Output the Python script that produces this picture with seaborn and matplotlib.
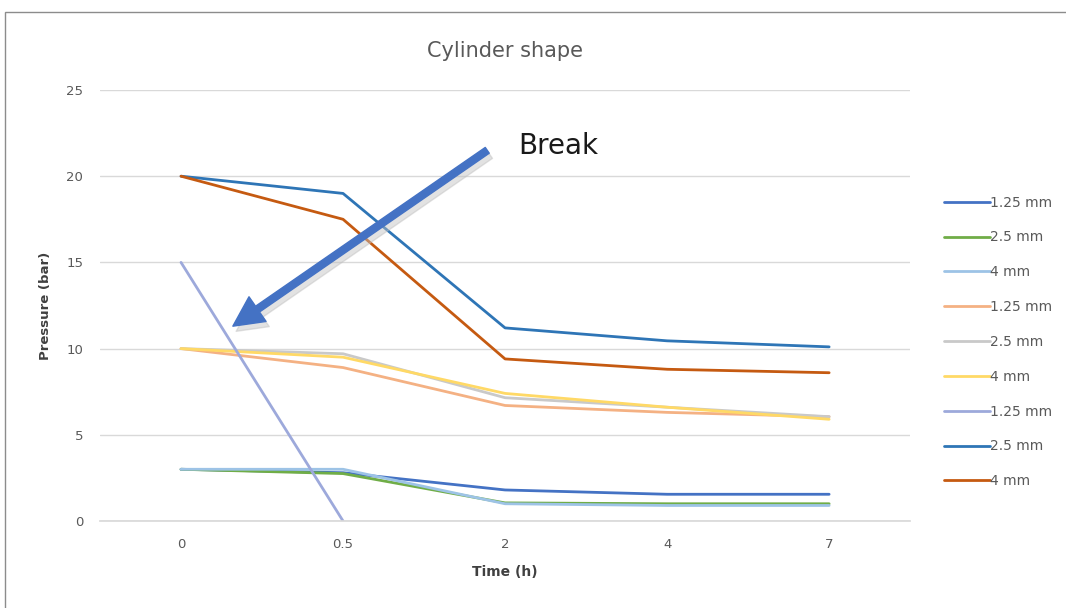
import numpy as np
import pandas as pd
import matplotlib
matplotlib.use("Agg")
import matplotlib.pyplot as plt
import seaborn as sns
from matplotlib.patches import Rectangle

# ---- data ----
time_labels = ["0", "0.5", "2", "4", "7"]
series_names = ["1.25 mm", "2.5 mm", "4 mm",
                "1.25 mm", "2.5 mm", "4 mm",
                "1.25 mm", "2.5 mm", "4 mm"]
s1 = [3.0, 2.8, 1.8, 1.55, 1.55]
s2 = [3.0, 2.75, 1.05, 1.0, 1.0]
s3 = [3.0, 3.0, 1.0, 0.9, 0.9]
s4 = [10.0, 8.9, 6.7, 6.3, 6.05]
s5 = [10.0, 9.7, 7.15, 6.6, 6.05]
s6 = [10.0, 9.5, 7.4, 6.6, 5.9]
s7 = [15.0, 0.0, np.nan, np.nan, np.nan]
s8 = [20.0, 19.0, 11.2, 10.45, 10.1]
s9 = [20.0, 17.5, 9.4, 8.8, 8.6]
all_series = [s1, s2, s3, s4, s5, s6, s7, s8, s9]
colors = ["#4472C4", "#70AD47", "#9DC3E6",
          "#F4B183", "#C9C9C9", "#FFD966",
          "#9DA9DB", "#2E75B6", "#C55A11"]

sns.set_theme(style="white")
plt.rcParams['font.family'] = ['DejaVu Sans']

fig = plt.figure(figsize=(10.66, 6.08), dpi=100)
ax = fig.add_axes([0.0938, 0.1431, 0.76, 0.7089])

pos = np.arange(len(time_labels))
for i, (vals, col) in enumerate(zip(all_series, colors)):
    df = pd.DataFrame({"t": pos, "p": vals}).dropna()
    sns.lineplot(data=df, x="t", y="p", ax=ax, color=col, linewidth=2.0,
                 label=series_names[i], sort=False)

ax.set_xlim(-0.5, len(time_labels) - 0.5)
ax.set_ylim(0, 25)
ax.set_xticks(pos)
ax.set_xticklabels(time_labels)
ax.set_yticks([0, 5, 10, 15, 20, 25])
ax.yaxis.grid(True, color="#D9D9D9", linewidth=1)
ax.xaxis.grid(False)
for s in ["top", "right", "left"]:
    ax.spines[s].set_visible(False)
ax.spines["bottom"].set_color("#D9D9D9")
ax.tick_params(axis="both", colors="#595959", labelsize=9.5, length=0)
ax.tick_params(axis="y", pad=12)
ax.tick_params(axis="x", pad=12)
ax.set_xlabel("Time (h)", fontsize=10, fontweight="bold", color="#404040", labelpad=10)
ax.set_ylabel("Pressure (bar)", fontsize=9.5, fontweight="bold", color="#404040", labelpad=10)
ax.set_title("Cylinder shape", fontsize=15, color="#595959", pad=24)

leg = ax.legend(loc="upper left", bbox_to_anchor=(1.035, 0.768), frameon=False,
                fontsize=10, handlelength=3.3, handletextpad=0.0,
                labelspacing=1.5, borderaxespad=0)
for t in leg.get_texts():
    t.set_color("#595959")

# annotation arrow "Break" with soft shadow
start = (1.89, 21.5)
end = (0.32, 11.3)
style = "simple,head_length=1.8,head_width=1.8,tail_width=0.42"
ax.annotate("", xy=(end[0] + 0.02, end[1] - 0.3), xytext=(start[0] + 0.02, start[1] - 0.3),
            arrowprops=dict(arrowstyle=style, color="#BFBFBF", alpha=0.45,
                            mutation_scale=12, shrinkA=0, shrinkB=0),
            annotation_clip=False)
ax.annotate("", xy=end, xytext=start,
            arrowprops=dict(arrowstyle=style, color="#4472C4",
                            mutation_scale=12, shrinkA=0, shrinkB=0),
            annotation_clip=False)
ax.text(2.08, 21.75, "Break", fontsize=20, color="#1a1a1a", va="center", ha="left")

# chart frame
fig.patches.append(Rectangle((5 / 1066, -0.05), 1.2, (608 - 12) / 608 + 0.05,
                             transform=fig.transFigure, fill=False,
                             edgecolor="#8C8C8C", linewidth=1.0))

fig.savefig("out.png", dpi=100)
